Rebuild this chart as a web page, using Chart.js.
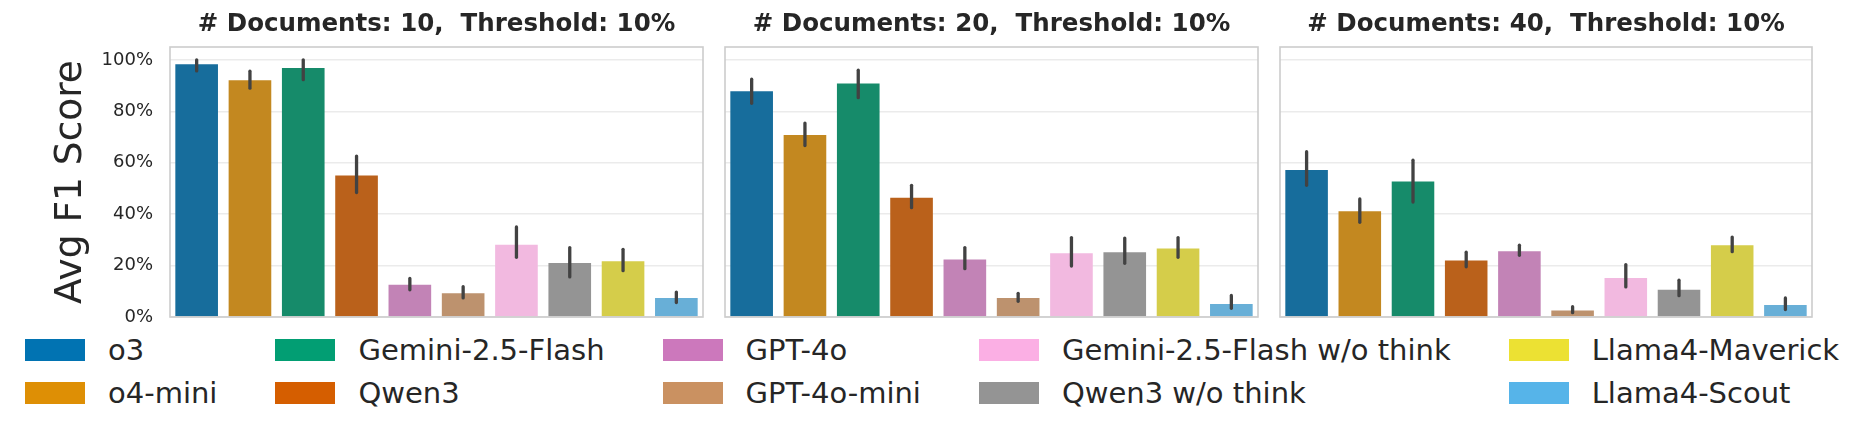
<!DOCTYPE html>
<html>
<head>
<meta charset="utf-8">
<script src="https://cdn.jsdelivr.net/npm/chart.js@4.4.0/dist/chart.umd.min.js"></script>
<style>
  body { margin: 0; background: #fff; width: 1869px; height: 437px; position: relative; overflow: hidden; font-family: "DejaVu Sans", sans-serif; }
  .panel { position: absolute; top: 0; height: 330px; }
  #legend { position: absolute; left: 25px; top: 339px; display: grid; grid-template-rows: 22px 22px; grid-auto-flow: column; column-gap: 58px; row-gap: 21px; }
  .item { display: flex; align-items: center; height: 22px; font-size: 29px; line-height: 1; color: #262626; white-space: nowrap; }
  .swatch { width: 60px; height: 22px; margin-right: 23px; flex: none; }
</style>
</head>
<body>
<div class="panel" style="left:0;width:713px"><canvas id="c0"></canvas></div>
<div class="panel" style="left:715px;width:553px"><canvas id="c1"></canvas></div>
<div class="panel" style="left:1270px;width:552px"><canvas id="c2"></canvas></div>
<div id="legend"></div>
<script>
// models and seaborn "colorblind" palette
const models = ["o3", "o4-mini", "Gemini-2.5-Flash", "Qwen3", "GPT-4o", "GPT-4o-mini",
  "Gemini-2.5-Flash w/o think", "Qwen3 w/o think", "Llama4-Maverick", "Llama4-Scout"];
const palette = ["#0173b2", "#de8f05", "#029e73", "#d55e00", "#cc78bc", "#ca9161",
  "#fbafe4", "#949494", "#ece133", "#56b4e9"];

const numDocs = [10, 20, 40];
const threshold = "10%";
const yTicks = [0, 20, 40, 60, 80, 100];

// avg F1 (%) and CI ends
const meanDocs10 = [98.3, 92.1, 96.8, 55.0, 12.5, 9.2, 28.1, 21.0, 21.7, 7.4];
const lowDocs10  = [95.7, 89.0, 92.3, 48.4, 10.6, 7.4, 23.2, 15.6, 18.0, 5.6];
const highDocs10 = [100.0, 95.6, 100.0, 62.6, 15.0, 11.8, 35.0, 27.0, 26.3, 9.7];

const meanDocs20 = [87.8, 70.8, 90.8, 46.4, 22.4, 7.4, 24.8, 25.2, 26.6, 5.1];
const lowDocs20  = [83.1, 66.7, 85.3, 42.5, 18.8, 6.1, 19.8, 20.9, 23.2, 3.4];
const highDocs20 = [92.5, 75.4, 96.0, 51.2, 27.0, 9.2, 30.9, 30.7, 30.9, 8.4];

const meanDocs40 = [57.2, 41.1, 52.7, 22.0, 25.6, 2.5, 15.2, 10.6, 27.9, 4.7];
const lowDocs40  = [51.2, 36.8, 44.7, 19.5, 24.0, 1.7, 11.7, 8.3, 25.4, 2.9];
const highDocs40 = [64.3, 45.9, 61.0, 25.2, 27.9, 4.0, 20.4, 14.3, 31.1, 7.4];

const means = [meanDocs10, meanDocs20, meanDocs40];
const lows = [lowDocs10, lowDocs20, lowDocs40];
const highs = [highDocs10, highDocs20, highDocs40];

// seaborn draws bars with saturation 0.75
function desaturate(hex, prop) {
  const r = parseInt(hex.slice(1, 3), 16) / 255;
  const g = parseInt(hex.slice(3, 5), 16) / 255;
  const b = parseInt(hex.slice(5, 7), 16) / 255;
  const max = Math.max(r, g, b), min = Math.min(r, g, b);
  const l = (max + min) / 2, d = max - min;
  let h = 0, s = 0;
  if (d > 0) {
    s = l > 0.5 ? d / (2 - max - min) : d / (max + min);
    if (max === r) h = (g - b) / d + (g < b ? 6 : 0);
    else if (max === g) h = (b - r) / d + 2;
    else h = (r - g) / d + 4;
    h /= 6;
  }
  return `hsl(${h * 360}, ${s * prop * 100}%, ${l * 100}%)`;
}
const barColors = palette.map((c) => desaturate(c, 0.75));

const textColor = "#262626";
const font = '"DejaVu Sans", sans-serif';

const errorBars = {
  id: "errorBars",
  afterDatasetsDraw(chart, args, opts) {
    const { ctx } = chart;
    const y = chart.scales.y;
    ctx.save();
    ctx.strokeStyle = "#424242";
    ctx.lineWidth = 3.3;
    ctx.lineCap = "round";
    chart.getDatasetMeta(0).data.forEach((bar, i) => {
      ctx.beginPath();
      ctx.moveTo(bar.x, y.getPixelForValue(opts.low[i]));
      ctx.lineTo(bar.x, y.getPixelForValue(opts.high[i]));
      ctx.stroke();
    });
    ctx.restore();
  },
};

// frame + title centred over the plot area
const frame = {
  id: "frame",
  afterDraw(chart, args, opts) {
    const { ctx, chartArea: a } = chart;
    ctx.save();
    ctx.strokeStyle = "#cccccc";
    ctx.lineWidth = 1.6;
    ctx.strokeRect(a.left, a.top, a.right - a.left, a.bottom - a.top);
    ctx.font = "bold 24.5px " + font;
    ctx.fillStyle = textColor;
    ctx.textAlign = "center";
    ctx.textBaseline = "middle";
    ctx.fillText(opts.title, (a.left + a.right) / 2, 25);
    ctx.restore();
  },
};

function makePanel(k) {
  const first = k === 0;
  new Chart(document.getElementById("c" + k), {
    type: "bar",
    data: {
      labels: models,
      datasets: [{
        data: means[k],
        backgroundColor: barColors,
        categoryPercentage: 1.0,
        barPercentage: 0.8,
      }],
    },
    options: {
      responsive: true,
      maintainAspectRatio: false,
      animation: false,
      layout: { padding: { left: first ? 0 : 10, right: 10, top: 47, bottom: 13 } },
      scales: {
        x: { display: false },
        y: {
          min: 0,
          max: 105,
          afterBuildTicks: (s) => {
            s.ticks = yTicks.map((v) => ({ value: v }));
          },
          afterFit: (s) => {
            s.width = first ? 170 : 0;
            s.paddingTop = 0;
            s.paddingBottom = 0;
          },
          border: { display: false },
          grid: { color: "#ebebeb", lineWidth: 1.5, drawTicks: false },
          ticks: {
            display: first,
            padding: 17,
            color: textColor,
            font: { family: font, size: 18 },
            callback: (v) => v + "%",
          },
          title: {
            display: first,
            text: "Avg F1 Score",
            color: textColor,
            font: { family: font, size: 37.5 },
            padding: { top: 49, bottom: 0 },
          },
        },
      },
      plugins: {
        legend: { display: false },
        tooltip: { enabled: false },
        errorBars: { low: lows[k], high: highs[k] },
        frame: { title: `# Documents: ${numDocs[k]},  Threshold: ${threshold}` },
      },
    },
    plugins: [errorBars, frame],
  });
}

numDocs.forEach((n, k) => makePanel(k));

// legend below the panels
const legend = document.getElementById("legend");
models.forEach((m, i) => {
  const item = document.createElement("div");
  item.className = "item";
  item.innerHTML = `<span class="swatch" style="background:${palette[i]}"></span><span>${m}</span>`;
  legend.appendChild(item);
});
</script>
</body>
</html>
